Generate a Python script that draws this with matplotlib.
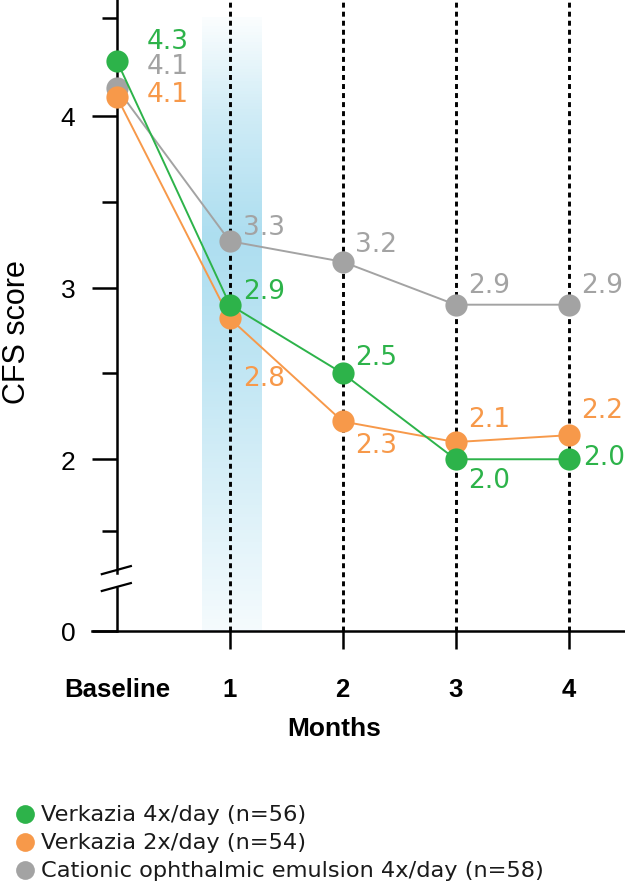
import numpy as np
import matplotlib
matplotlib.use('Agg')
import matplotlib.pyplot as plt
from matplotlib.lines import Line2D

# data
x_pos = [0, 1, 2, 3, 4]
x_labels = ['Baseline', '1', '2', '3', '4']

# y axis is broken: plotted value 1 is shown as "0"
green_vals = [4.32, 2.90, 2.50, 2.00, 2.00]
orange_vals = [4.11, 2.82, 2.22, 2.10, 2.14]
gray_vals = [4.16, 3.27, 3.15, 2.90, 2.90]

green_txt = ['4.3', '2.9', '2.5', '2.0', '2.0']
orange_txt = ['4.1', '2.8', '2.3', '2.1', '2.2']
gray_txt = ['4.1', '3.3', '3.2', '2.9', '2.9']

legend_labels = ['Verkazia 4x/day (n=56)',
                 'Verkazia 2x/day (n=54)',
                 'Cationic ophthalmic emulsion 4x/day (n=58)']

GREEN = '#2db34a'
ORANGE = '#f7994a'
GRAY = '#a3a3a3'

W, H = 625, 887
fig = plt.figure(figsize=(W / 100, H / 100), dpi=100)
ax = fig.add_axes([92 / W, 255 / H, 533 / W, 632 / H])
ax.set_xlim(-0.22, 4.5)
ax.set_ylim(1, 4.68)

# blue gradient band around month 1
prof_y = np.linspace(1, 4.57, 200)
alpha = np.interp(prof_y, [1, 1.6, 2.6, 3.3, 4.0, 4.57], [0.12, 0.35, 0.75, 0.95, 0.55, 0.05])
band = np.zeros((200, 1, 4))
band[:, 0, :3] = matplotlib.colors.to_rgb('#a8dcef')
band[:, 0, 3] = alpha
ax.imshow(band, extent=[0.752, 1.283, 1, 4.57], origin='lower', aspect='auto', zorder=0)

# dashed verticals
for xv in x_pos[1:]:
    ax.axvline(xv, color='black', lw=2.1, ls=(0, (1.7, 1.4)), zorder=1)

# series
series = [(gray_vals, gray_txt, GRAY), (orange_vals, orange_txt, ORANGE), (green_vals, green_txt, GREEN)]
for vals, txt, col in series:
    ax.plot(x_pos, vals, color=col, lw=1.4, marker='o', ms=16, mec='none', zorder=3, clip_on=False)

# label offsets in pixels (dx, dy) from marker
offsets = {
    GREEN: [(30, 20), (13, 14), (12, 16), (13, -21), (15, 2)],
    ORANGE: [(30, 3), (13, -60), (12, -24), (13, 23), (13, 25)],
    GRAY: [(30, 22), (13, 14), (12, 18), (13, 20), (13, 20)],
}
for vals, txt, col in series:
    for xi, yi, t, (dx, dy) in zip(x_pos, vals, txt, offsets[col]):
        ax.annotate(t, (xi, yi), xytext=(dx * 0.72, dy * 0.72), textcoords='offset points',
                    ha='left', va='center', color=col, fontsize=19, family='DejaVu Sans', zorder=4)

# spines
for s in ['top', 'right']:
    ax.spines[s].set_visible(False)
ax.spines['left'].set_position(('data', 0))
ax.spines['left'].set_bounds(1.34, 4.68)
ax.spines['left'].set_linewidth(1.8)
ax.spines['bottom'].set_linewidth(1.8)
ax.plot([0, 0], [1, 1.25], color='black', lw=1.8, clip_on=False, zorder=2)
ax.plot([-0.133, 0.124], [1.331, 1.378], color='black', lw=1.6, clip_on=False)
ax.plot([-0.133, 0.124], [1.233, 1.279], color='black', lw=1.6, clip_on=False)

# y ticks
ax.set_yticks([1, 2, 3, 4])
ax.set_yticklabels(['0', '2', '3', '4'], family='Liberation Sans', fontsize=19)
ax.set_yticks([1.58, 2.5, 3.5, 4.57], minor=True)
ax.tick_params(axis='y', which='major', length=18, width=1.8, pad=12)
ax.tick_params(axis='y', which='minor', length=10.5, width=1.8)

# x ticks
ax.set_xticks(x_pos)
ax.set_xticklabels(x_labels, family='Liberation Sans', fontweight='bold', fontsize=18.5)
ax.tick_params(axis='x', which='major', length=13, width=1.8, pad=20)
ax.xaxis.get_major_ticks()[0].tick1line.set_visible(False)

ax.set_ylabel('CFS score', family='Liberation Sans', fontsize=22)
ax.yaxis.set_label_coords(-0.112, 0.475)
ax.set_xlabel('Months', family='Liberation Sans', fontweight='bold', fontsize=19)
ax.xaxis.set_label_coords(0.454, -0.135)

# legend, drawn row by row
row_y = [815, 843, 871]
for lab, c, ry in zip(legend_labels, [GREEN, ORANGE, GRAY], row_y):
    fig.add_artist(Line2D([25 / W], [1 - ry / H], ls='none', marker='o', ms=13.5,
                          color=c, mec='none', transform=fig.transFigure))
    fig.text(41 / W, 1 - ry / H, lab, ha='left', va='center', fontsize=16.2,
             family='DejaVu Sans', color='#1a1a1a')

fig.savefig('out.png', dpi=100)
